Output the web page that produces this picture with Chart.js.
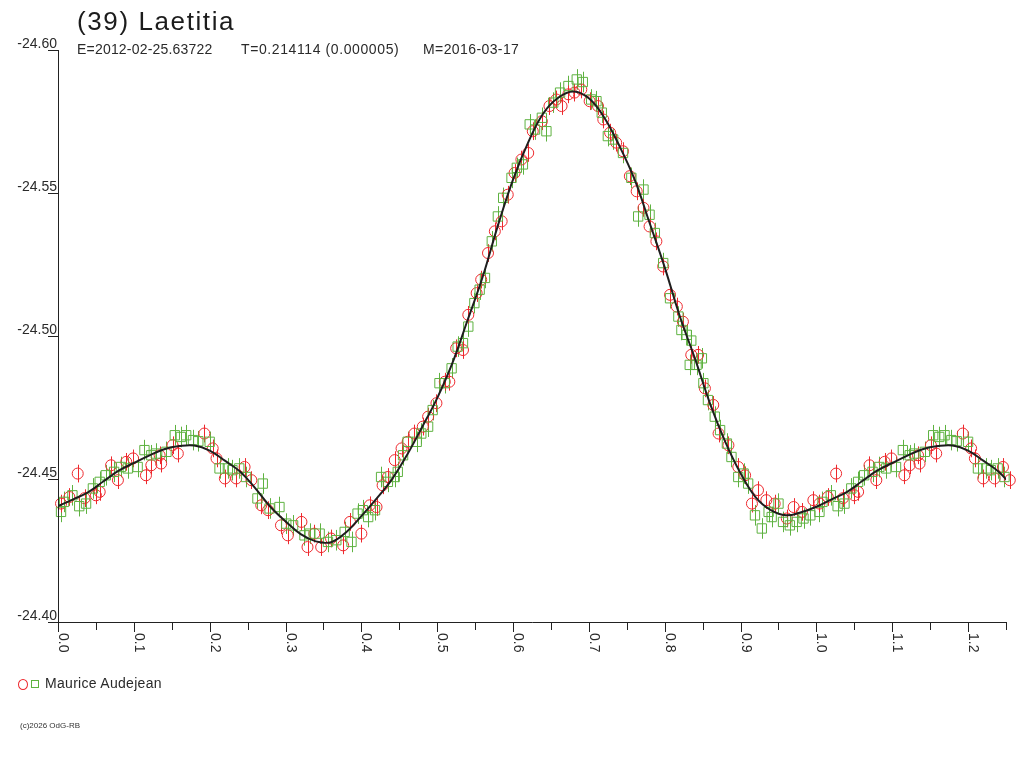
<!DOCTYPE html>
<html><head><meta charset="utf-8">
<script src="https://cdn.jsdelivr.net/npm/chart.js@4.4.1/dist/chart.umd.min.js"></script>
<style>
body{margin:0;background:#fff;}
#wrap{position:relative;width:1024px;height:768px;font-family:"Liberation Sans",Arial,sans-serif;color:#222;overflow:hidden;}
canvas{position:absolute;left:0;top:0;}
.t{position:absolute;white-space:pre;}
</style></head><body>
<div id="wrap">
<canvas id="c" width="1024" height="768"></canvas>
<div class="t" style="left:77px;top:8px;font-size:26px;line-height:26px;letter-spacing:1.6px;color:#1c1c1c;">(39) Laetitia</div>
<div class="t" style="left:77px;top:41.5px;font-size:14px;line-height:14px;letter-spacing:0.2px;color:#2a2a2a;">E=2012-02-25.63722</div>
<div class="t" style="left:241px;top:41.5px;font-size:14px;line-height:14px;letter-spacing:0.6px;color:#2a2a2a;">T=0.214114 (0.000005)</div>
<div class="t" style="left:423px;top:41.5px;font-size:14px;line-height:14px;letter-spacing:0.4px;color:#2a2a2a;">M=2016-03-17</div>
<div style="position:absolute;left:18px;top:678.5px;width:8px;height:9px;border:1px solid rgb(238,40,45);border-radius:50%;"></div>
<div style="position:absolute;left:31px;top:680px;width:5.5px;height:5.5px;border:1px solid rgb(94,178,64);"></div>
<div class="t" style="left:45px;top:675.5px;font-size:14px;line-height:14px;letter-spacing:0.3px;color:#2a2a2a;">Maurice Audejean</div>
<div class="t" style="left:20px;top:721.5px;font-size:8px;line-height:8px;color:#333;">(c)2026 OdG-RB</div>
</div>
<script>
// Fitted light curve (phase 0.00 .. 1.00, step 0.02)
const curvePhase = [0.00,0.02,0.04,0.06,0.08,0.10,0.12,0.14,0.16,0.18,0.20,0.22,0.24,0.26,0.28,0.30,0.32,0.34,0.36,0.38,0.40,0.42,0.44,0.46,0.48,0.50,0.52,0.54,0.56,0.58,0.60,0.62,0.64,0.66,0.68,0.70,0.72,0.74,0.76,0.78,0.80,0.82,0.84,0.86,0.88,0.90,0.92,0.94,0.96,0.98,1.00];
const curveMag = [-24.4405,-24.4429,-24.4454,-24.4492,-24.4529,-24.4556,-24.4582,-24.4604,-24.4615,-24.4617,-24.4599,-24.4564,-24.4526,-24.4468,-24.4403,-24.4352,-24.4307,-24.4282,-24.4279,-24.4314,-24.4370,-24.4431,-24.4498,-24.4583,-24.4681,-24.4783,-24.4905,-24.5055,-24.5207,-24.5386,-24.5547,-24.5677,-24.5779,-24.5834,-24.5855,-24.5831,-24.5765,-24.5666,-24.5549,-24.5396,-24.5240,-24.5068,-24.4920,-24.4762,-24.4629,-24.4520,-24.4436,-24.4391,-24.4373,-24.4384,-24.4403];

// Observations, red circles
const redPhase = [0.004,0.015,0.026,0.035,0.050,0.055,0.070,0.079,0.090,0.099,
0.116,0.123,0.134,0.136,0.151,0.158,0.193,0.204,0.209,0.220,
0.235,0.246,0.255,0.268,0.277,0.294,0.303,0.321,0.329,0.338,
0.347,0.360,0.376,0.385,0.400,0.411,0.420,0.428,0.435,0.444,
0.453,0.461,0.470,0.481,0.488,0.499,0.510,0.516,0.525,0.534,
0.541,0.552,0.558,0.567,0.576,0.585,0.593,0.602,0.611,0.620,
0.626,0.638,0.648,0.657,0.664,0.673,0.681,0.690,0.701,0.712,
0.719,0.728,0.736,0.745,0.754,0.763,0.772,0.780,0.789,0.798,
0.807,0.816,0.824,0.835,0.844,0.853,0.864,0.871,0.884,0.897,
0.906,0.915,0.923,0.934,0.945,0.961,0.970,0.981,0.996];
const redMag = [-24.4414,-24.4437,-24.4519,-24.4433,-24.4443,-24.4455,-24.4548,-24.4496,-24.4560,-24.4572,
-24.4513,-24.4548,-24.4583,-24.4554,-24.4618,-24.4589,-24.4659,-24.4607,-24.4572,-24.4502,
-24.4502,-24.4542,-24.4496,-24.4408,-24.4391,-24.4338,-24.4303,-24.4350,-24.4262,-24.4309,
-24.4262,-24.4292,-24.4268,-24.4350,-24.4309,-24.4408,-24.4402,-24.4478,-24.4507,-24.4566,
-24.4607,-24.4630,-24.4659,-24.4683,-24.4718,-24.4765,-24.4840,-24.4840,-24.4957,-24.4951,
-24.5074,-24.5150,-24.5197,-24.5290,-24.5366,-24.5401,-24.5494,-24.5570,-24.5617,-24.5640,
-24.5716,-24.5751,-24.5804,-24.5827,-24.5804,-24.5845,-24.5851,-24.5862,-24.5821,-24.5804,
-24.5757,-24.5711,-24.5676,-24.5646,-24.5559,-24.5506,-24.5448,-24.5383,-24.5331,-24.5243,
-24.5144,-24.5103,-24.5050,-24.4934,-24.4934,-24.4817,-24.4759,-24.4659,-24.4618,-24.4542,
-24.4513,-24.4414,-24.4461,-24.4426,-24.4414,-24.4362,-24.4402,-24.4385,-24.4426];
const redErr = 0.0031;

// Observations, green squares
const greenPhase = [0.004,0.008,0.019,0.028,0.037,0.046,0.055,0.063,0.074,0.083,
0.092,0.105,0.114,0.123,0.129,0.143,0.154,0.162,0.169,0.178,
0.185,0.200,0.213,0.224,0.230,0.239,0.248,0.263,0.270,0.279,
0.292,0.301,0.310,0.325,0.332,0.345,0.356,0.367,0.378,0.387,
0.395,0.402,0.409,0.418,0.426,0.435,0.444,0.448,0.455,0.461,
0.473,0.479,0.488,0.494,0.503,0.510,0.519,0.527,0.534,0.541,
0.549,0.556,0.563,0.572,0.580,0.587,0.598,0.605,0.613,0.622,
0.629,0.638,0.644,0.653,0.662,0.673,0.684,0.692,0.703,0.710,
0.717,0.725,0.732,0.745,0.756,0.765,0.772,0.780,0.787,0.798,
0.807,0.818,0.822,0.829,0.833,0.835,0.842,0.849,0.851,0.857,
0.866,0.873,0.882,0.888,0.897,0.904,0.910,0.919,0.928,0.937,
0.941,0.950,0.956,0.965,0.974,0.983,0.992];
const greenMag = [-24.4385,-24.4420,-24.4443,-24.4405,-24.4414,-24.4467,-24.4490,-24.4513,-24.4525,-24.4542,
-24.4537,-24.4542,-24.4601,-24.4583,-24.4589,-24.4595,-24.4653,-24.4647,-24.4653,-24.4636,
-24.4632,-24.4630,-24.4537,-24.4537,-24.4531,-24.4537,-24.4507,-24.4432,-24.4484,-24.4397,
-24.4402,-24.4344,-24.4338,-24.4303,-24.4309,-24.4309,-24.4280,-24.4286,-24.4315,-24.4280,
-24.4379,-24.4391,-24.4367,-24.4391,-24.4507,-24.4490,-24.4507,-24.4525,-24.4583,-24.4630,
-24.4630,-24.4659,-24.4683,-24.4741,-24.4835,-24.4835,-24.4887,-24.4963,-24.4975,-24.5033,
-24.5115,-24.5162,-24.5203,-24.5331,-24.5418,-24.5483,-24.5553,-24.5588,-24.5600,-24.5740,
-24.5722,-24.5763,-24.5716,-24.5816,-24.5851,-24.5874,-24.5897,-24.5888,-24.5827,-24.5821,
-24.5781,-24.5699,-24.5687,-24.5640,-24.5553,-24.5418,-24.5512,-24.5424,-24.5360,-24.5255,
-24.5132,-24.5068,-24.5021,-24.5004,-24.4899,-24.4984,-24.4899,-24.4922,-24.4835,-24.4776,
-24.4718,-24.4671,-24.4624,-24.4577,-24.4507,-24.4519,-24.4484,-24.4373,-24.4327,-24.4385,
-24.4367,-24.4414,-24.4350,-24.4338,-24.4350,-24.4362,-24.4373];
const greenErr = 0.0036;

// Axis ticks
const xTickLabels = ['0.0','0.1','0.2','0.3','0.4','0.5','0.6','0.7','0.8','0.9','1.0','1.1','1.2'];
const yTickLabels = ['-24.60','-24.55','-24.50','-24.45','-24.40'];
const xMax = 1.25;
const phaseRepeat = 0.26; // phases shown a second time after 1.0

function foldPoints(ph, mag, repeatLimit){
  const pts = ph.map((p,i)=>({x:p, y:mag[i]}));
  ph.forEach((p,i)=>{ if(p>0 && p<=repeatLimit) pts.push({x:p+1, y:mag[i]}); });
  return pts.sort((a,b)=>a.x-b.x);
}

const redColor = 'rgb(238,40,45)';
const greenColor = 'rgb(94,178,64)';

const decor = {
  id:'decor',
  beforeDatasetsDraw(chart){
    const ctx = chart.ctx, xs = chart.scales.x, ys = chart.scales.y;
    ctx.save();
    ctx.lineWidth = 1;
    chart.data.datasets.forEach(ds=>{
      if(!ds.errVal) return;
      ctx.strokeStyle = ds.borderColor;
      ctx.beginPath();
      ds.data.forEach(pt=>{
        const px = Math.round(xs.getPixelForValue(pt.x))+0.5;
        ctx.moveTo(px, ys.getPixelForValue(pt.y-ds.errVal));
        ctx.lineTo(px, ys.getPixelForValue(pt.y+ds.errVal));
      });
      ctx.stroke();
    });
    ctx.restore();
  },
  afterDraw(chart){
    const ctx = chart.ctx, xs = chart.scales.x, ys = chart.scales.y, a = chart.chartArea;
    ctx.save();
    ctx.strokeStyle = '#222';
    ctx.lineWidth = 1;
    ctx.beginPath();
    ctx.moveTo(a.left+0.5, a.top); ctx.lineTo(a.left+0.5, a.bottom+0.5);
    ctx.lineTo(a.right, a.bottom+0.5);
    for(let k=0;k<=Math.round(xMax/0.05);k++){
      const v = k*0.05;
      const px = Math.round(xs.getPixelForValue(v))+0.5;
      const len = (k%2===0)?10:8;
      ctx.moveTo(px, a.bottom); ctx.lineTo(px, a.bottom+len);
    }
    yTickLabels.forEach(l=>{
      const py = Math.round(ys.getPixelForValue(parseFloat(l)))+0.5;
      ctx.moveTo(a.left-10, py); ctx.lineTo(a.left+1, py);
    });
    ctx.stroke();
    ctx.fillStyle = '#2a2a2a';
    ctx.font = '14px "Liberation Sans", Arial, sans-serif';
    ctx.textAlign = 'right';
    ctx.textBaseline = 'alphabetic';
    yTickLabels.forEach(l=>{
      const py = ys.getPixelForValue(parseFloat(l));
      ctx.fillText(l, a.left-1, py-2);
    });
    ctx.textAlign = 'left';
    xTickLabels.forEach(l=>{
      const px = xs.getPixelForValue(parseFloat(l));
      ctx.save();
      ctx.translate(Math.round(px)+1, a.bottom+11);
      ctx.rotate(Math.PI/2);
      ctx.fillText(l, 0, 0);
      ctx.restore();
    });
    ctx.restore();
  }
};

new Chart(document.getElementById('c'), {
  type:'scatter',
  data:{ datasets:[
    { type:'line', data: foldPoints(curvePhase, curveMag, 0.30), borderColor:'#1e1e1e', borderWidth:2, pointRadius:0, tension:0.4, fill:false },
    { data: foldPoints(greenPhase, greenMag, phaseRepeat), borderColor:greenColor, backgroundColor:'rgba(0,0,0,0)', pointStyle:'rect', pointRadius:6.6, borderWidth:1, errVal:greenErr, clip:false },
    { data: foldPoints(redPhase, redMag, phaseRepeat), borderColor:redColor, backgroundColor:'rgba(0,0,0,0)', pointStyle:'circle', pointRadius:5.5, borderWidth:1, errVal:redErr, clip:false }
  ]},
  options:{
    responsive:false, animation:false, devicePixelRatio:1,
    layout:{ padding:{ left:58, top:50, right:18, bottom:146 } },
    plugins:{ legend:{display:false}, tooltip:{enabled:false}, title:{display:false} },
    scales:{
      x:{ type:'linear', min:0, max:xMax, ticks:{display:false}, grid:{display:false}, border:{display:false}, afterFit(s){ s.height=0; } },
      y:{ type:'linear', min:-24.60, max:-24.40, reverse:true, ticks:{display:false}, grid:{display:false}, border:{display:false}, afterFit(s){ s.width=0; } }
    }
  },
  plugins:[decor]
});
</script>
</body></html>
